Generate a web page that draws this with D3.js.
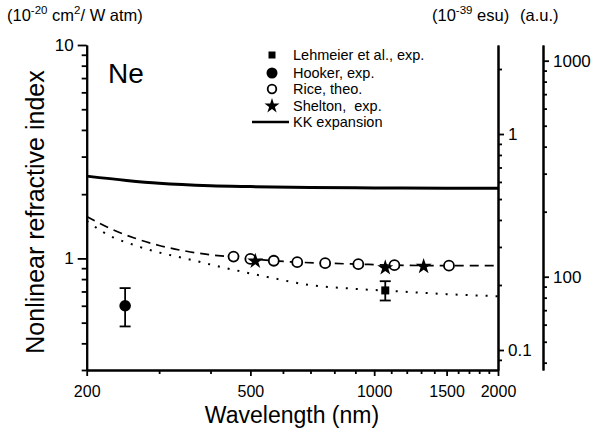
<!DOCTYPE html>
<html><head><meta charset="utf-8">
<script src="https://cdn.jsdelivr.net/npm/d3@7"></script>
<style>
html,body{margin:0;padding:0;background:#fff;}
svg{display:block;font-family:"Liberation Sans",Arial,sans-serif;}
text{white-space:pre;}
</style></head>
<body>
<svg id="c" width="594" height="438"></svg>
<script>
// ---- data ----
const kkLine = [[200,2.43],[250,2.32],[300,2.25],[400,2.19],[500,2.17],[700,2.15],[1000,2.14],[1500,2.13],[2000,2.13]];
const riceFit = [[200,1.57],[230,1.37],[260,1.25],[300,1.15],[350,1.08],[400,1.04],[455,1.015],[500,0.995],[570,0.975],[650,0.96],[760,0.95],[915,0.94],[1120,0.93],[1520,0.925],[2000,0.925]];
const dottedLine = [[200,1.50],[219,1.33],[270,1.13],[363,0.98],[437,0.90],[548,0.82],[697,0.75],[900,0.72],[1157,0.70],[1500,0.68],[2000,0.665]];
const riceTheo = [[455,1.02],[500,0.995],[570,0.975],[650,0.96],[760,0.95],[915,0.94],[1120,0.93],[1520,0.925]];
const sheltonExp = [[514,0.971],[1064,0.904],[1319,0.917]];
const hookerExp = [[248,0.60,0.48,0.726]];
const lehmeierExp = [[1064,0.708,0.635,0.782]];
const xMajor = [200,500,1000,1500,2000];
const xMinor = [300,400,600,700,800,900,1100,1200,1300,1400,1600,1700,1800,1900];
const yMajor = [1,10];
const yMinor = [0.3,0.4,0.5,0.6,0.7,0.8,0.9,2,3,4,5,6,7,8,9];
const esuMajor = [0.1,1];
const esuMinor = [0.09,0.2,0.3,0.4,0.5,0.6,0.7,0.8,0.9,2];
const auMajor = [100,1000];
const auMinor = [40,50,60,70,80,90,200,300,400,500,600,700,800,900];
const legendItems = ["Lehmeier et al., exp.","Hooker, exp.","Rice, theo.","Shelton,  exp.","KK expansion"];

// ---- layout ----
const svg = d3.select("#c");
const L = 86.7, R = 498, T = 45, B = 370;
const x = d3.scaleLog().domain([200,2000]).range([L,R]);
const y = d3.scaleLog().domain([0.3,10]).range([B,T]);
const yE = d3.scaleLog().domain([0.0808,2.583]).range([B,T]);
const yA = d3.scaleLog().domain([37.0,1182]).range([B,T]);
const fmt = d => String(d);

function axis(g, gen, vals, size, labels){
  g.call(gen.tickValues(vals).tickSize(size).tickSizeOuter(0).tickPadding(4).tickFormat(labels?fmt:""));
  g.select(".domain").attr("stroke-width",2);
  g.selectAll(".tick line").attr("stroke-width",1.8);
  g.selectAll(".tick text").attr("font-size",16).attr("fill","#000");
}
// bottom
const gx = svg.append("g").attr("transform",`translate(0,${B})`);
axis(gx, d3.axisBottom(x), xMajor, 6, true);
const gx2 = svg.append("g").attr("transform",`translate(0,${B})`);
axis(gx2, d3.axisBottom(x), xMinor, 4, false);
gx.selectAll(".tick text").attr("dy","1.05em");
// left
const gy = svg.append("g").attr("transform",`translate(${L},0)`);
axis(gy, d3.axisLeft(y), yMajor, 9, true);
const gy2 = svg.append("g").attr("transform",`translate(${L},0)`);
axis(gy2, d3.axisLeft(y), yMinor, 5, false);
gy.selectAll(".tick text").attr("font-size",17);
// right esu
const ge = svg.append("g").attr("transform",`translate(${R},0)`);
axis(ge, d3.axisRight(yE), esuMajor, 6, true);
const ge2 = svg.append("g").attr("transform",`translate(${R},0)`);
axis(ge2, d3.axisRight(yE), esuMinor, 4, false);
ge.selectAll(".tick text").attr("font-size",17);
// a.u. axis
const AX = 543;
const ga = svg.append("g").attr("transform",`translate(${AX},0)`);
axis(ga, d3.axisRight(yA), auMajor, 6, true);
const ga2 = svg.append("g").attr("transform",`translate(${AX},0)`);
axis(ga2, d3.axisRight(yA), auMinor, 4, false);
ga.selectAll(".tick text").attr("font-size",17);

// ---- lines ----
const line = d3.line().x(d=>x(d[0])).y(d=>y(d[1])).curve(d3.curveMonotoneX);
svg.append("path").datum(kkLine).attr("d",line).attr("fill","none").attr("stroke","#000").attr("stroke-width",3);
svg.append("path").datum(riceFit).attr("d",line).attr("fill","none").attr("stroke","#000").attr("stroke-width",1.7).attr("stroke-dasharray","9,6");
svg.append("path").datum(dottedLine).attr("d",line).attr("fill","none").attr("stroke","#000").attr("stroke-width",2).attr("stroke-dasharray","2,8");

// ---- error bars ----
function errbars(data){
  const g = svg.append("g").attr("stroke","#000").attr("stroke-width",1.8);
  data.forEach(d=>{
    const cx = x(d[0]);
    g.append("line").attr("x1",cx).attr("x2",cx).attr("y1",y(d[2])).attr("y2",y(d[3]));
    g.append("line").attr("x1",cx-5.5).attr("x2",cx+5.5).attr("y1",y(d[2])).attr("y2",y(d[2]));
    g.append("line").attr("x1",cx-5.5).attr("x2",cx+5.5).attr("y1",y(d[3])).attr("y2",y(d[3]));
  });
}
errbars(hookerExp); errbars(lehmeierExp);

// ---- markers ----
svg.append("g").selectAll("circle").data(riceTheo).join("circle")
  .attr("cx",d=>x(d[0])).attr("cy",d=>y(d[1])).attr("r",5)
  .attr("fill","#fff").attr("stroke","#000").attr("stroke-width",1.8);
svg.append("g").selectAll("path").data(sheltonExp).join("path")
  .attr("d",d3.symbol(d3.symbolStar,80)).attr("transform",d=>`translate(${x(d[0])},${y(d[1])})`).attr("fill","#000");
svg.append("g").selectAll("circle").data(hookerExp).join("circle")
  .attr("cx",d=>x(d[0])).attr("cy",d=>y(d[1])).attr("r",5.8).attr("fill","#000");
svg.append("g").selectAll("rect").data(lehmeierExp).join("rect")
  .attr("x",d=>x(d[0])-4).attr("y",d=>y(d[1])-4).attr("width",8).attr("height",8).attr("fill","#000");

// ---- legend ----
const lg = svg.append("g").attr("font-size",14.5);
const ly = [55,73,89,106,122], lmx = 272, ltx = 293;
lg.append("rect").attr("x",lmx-3.5).attr("y",ly[0]-3.5).attr("width",7).attr("height",7);
lg.append("circle").attr("cx",lmx).attr("cy",ly[1]).attr("r",5.5);
lg.append("circle").attr("cx",lmx).attr("cy",ly[2]).attr("r",4.3).attr("fill","#fff").attr("stroke","#000").attr("stroke-width",1.8);
lg.append("path").attr("d",d3.symbol(d3.symbolStar,70)).attr("transform",`translate(${lmx},${ly[3]})`);
lg.append("line").attr("x1",252).attr("x2",289).attr("y1",ly[4]).attr("y2",ly[4]).attr("stroke","#000").attr("stroke-width",2.5);
lg.selectAll("text.l").data(legendItems).join("text").attr("class","l")
  .attr("x",ltx).attr("y",(d,i)=>ly[i]).attr("dy","0.36em").text(d=>d);

// ---- texts ----
svg.append("text").attr("x",108).attr("y",83).attr("font-size",28).text("Ne");
const t1 = svg.append("text").attr("x",7).attr("y",21).attr("font-size",16.5);
t1.append("tspan").text("(10");
t1.append("tspan").attr("dy",-7).attr("font-size",11.5).text("-20");
t1.append("tspan").attr("dy",7).text(" cm");
t1.append("tspan").attr("dy",-7).attr("font-size",11.5).text("2");
t1.append("tspan").attr("dy",7).text("/ W atm)");
const t2 = svg.append("text").attr("x",432).attr("y",21).attr("font-size",16.5);
t2.append("tspan").text("(10");
t2.append("tspan").attr("dy",-7).attr("font-size",11.5).text("-39");
t2.append("tspan").attr("dy",7).text(" esu)");
svg.append("text").attr("x",520).attr("y",21).attr("font-size",16.5).text("(a.u.)");
svg.append("text").attr("x",292).attr("y",423).attr("text-anchor","middle").attr("font-size",23).text("Wavelength (nm)");
svg.append("text").attr("transform","translate(44,212) rotate(-90)").attr("text-anchor","middle").attr("font-size",25).text("Nonlinear refractive index");
</script>
</body></html>
